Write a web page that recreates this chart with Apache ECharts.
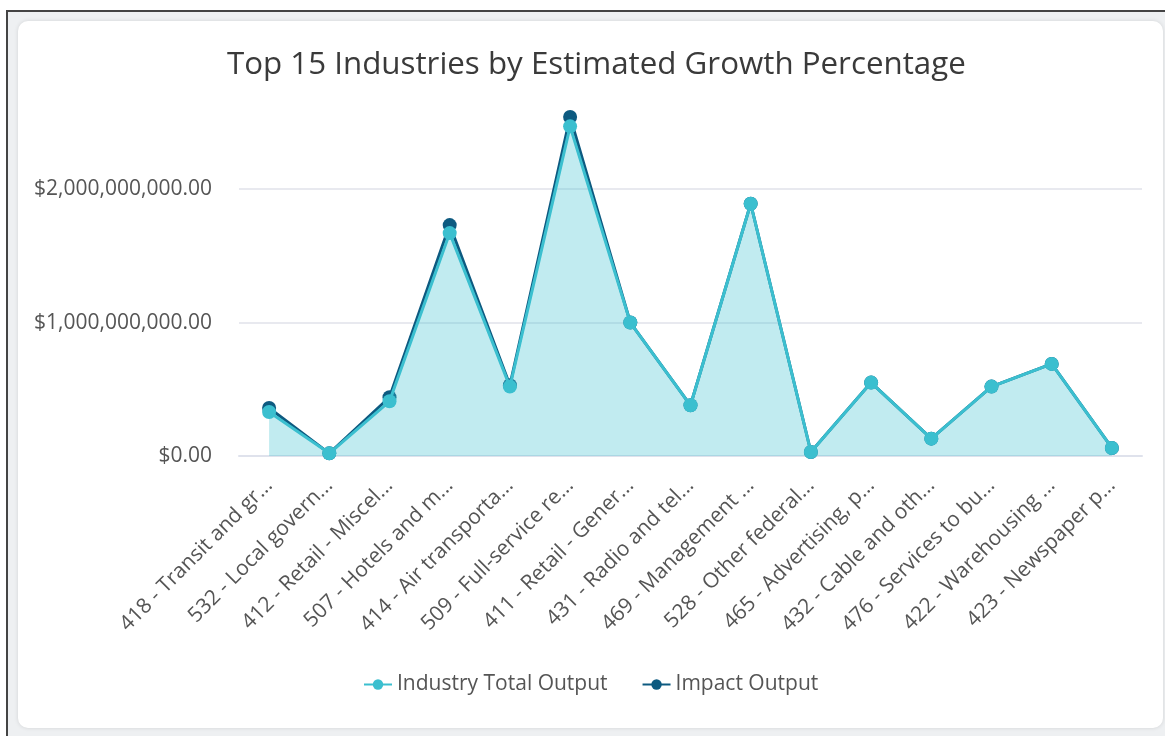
<!DOCTYPE html>
<html lang="en">
<head>
  <meta charset="UTF-8">
  <title>Top 15 Industries by Estimated Growth Percentage</title>
  <script src="https://cdn.jsdelivr.net/npm/echarts@6/dist/echarts.min.js"></script>
  <style>
    html, body { margin: 0; padding: 0; background: #fff; }
    #frame {
      position: absolute; left: 6px; top: 10px; right: 0; bottom: 0;
      background: #eef0f2;
      border-left: 2px solid #444; border-top: 2px solid #444;
    }
    #card {
      position: absolute; left: 18px; top: 21px; width: 1145px; height: 707px;
      background: #fff; border-radius: 10px;
      box-shadow: 0 0 4px rgba(0,0,0,0.12);
    }
    #chart { position: absolute; left: 0; top: 0; width: 1165px; height: 736px; }
  </style>
</head>
<body>
  <div id="frame"></div>
  <div id="card"></div>
  <div id="chart"></div>

  <script>
    var industries = [
      '418 - Transit and gr...', '532 - Local govern...', '412 - Retail - Miscel...',
      '507 - Hotels and m...', '414 - Air transporta...', '509 - Full-service re...',
      '411 - Retail - Gener...', '431 - Radio and tel...', '469 - Management ...',
      '528 - Other federal...', '465 - Advertising, p...', '432 - Cable and oth...',
      '476 - Services to bu...', '422 - Warehousing ...', '423 - Newspaper p...'
    ];
    // values in dollars
    var totalOutput = [
      0.33e9, 0.02e9, 0.41e9, 1.67e9, 0.52e9, 2.47e9, 1.00e9, 0.38e9,
      1.89e9, 0.03e9, 0.55e9, 0.13e9, 0.52e9, 0.69e9, 0.06e9
    ];
    var impactOutput = [
      0.36e9, 0.02e9, 0.44e9, 1.73e9, 0.53e9, 2.54e9, 1.00e9, 0.38e9,
      1.89e9, 0.03e9, 0.55e9, 0.13e9, 0.52e9, 0.69e9, 0.06e9
    ];

    var font = '"Open Sans", sans-serif';
    var chart = echarts.init(document.getElementById('chart'));

    function money(v) {
      return '$' + v.toLocaleString('en-US', { minimumFractionDigits: 2, maximumFractionDigits: 2 });
    }

    chart.setOption({
      animation: false,
      title: {
        text: 'Top 15 Industries by Estimated Growth Percentage',
        left: 222, top: 45,
        textStyle: { fontFamily: font, fontSize: 31.3, fontWeight: 'normal', color: '#3a3a3a' }
      },
      legend: {
        data: ['Industry Total Output', 'Impact Output'],
        left: 358, top: 669,
        itemWidth: 28, itemHeight: 13, itemGap: 34,
        textStyle: { fontFamily: font, fontSize: 21, color: '#555' }
      },
      grid: { left: 239, right: 23, top: 109, bottom: 280, containLabel: false },
      xAxis: {
        type: 'category', data: industries, boundaryGap: true,
        axisLine: { lineStyle: { color: '#dfe2ec', width: 2 } },
        axisTick: { show: false },
        axisLabel: {
          rotate: 45, margin: 26, interval: 0,
          fontFamily: font, fontSize: 21, color: '#555'
        }
      },
      yAxis: {
        type: 'value', min: 0, max: 2.6e9, interval: 1e9,
        axisLine: { show: false }, axisTick: { show: false },
        splitLine: { showMaxLine: false, lineStyle: { color: '#e8e9ef', width: 2 } },
        axisLabel: {
          margin: 27, showMaxLabel: false,
          fontFamily: font, fontSize: 21, color: '#555',
          formatter: money
        }
      },
      series: [
        {
          name: 'Industry Total Output', type: 'line', data: totalOutput, z: 3,
          symbol: 'circle', symbolSize: 14,
          lineStyle: { width: 3, color: '#3bbfcf' },
          itemStyle: { color: '#3bbfcf' },
          areaStyle: { color: 'rgba(59,191,207,0.45)' }
        },
        {
          name: 'Impact Output', type: 'line', data: impactOutput, z: 2,
          symbol: 'circle', symbolSize: 14,
          lineStyle: { width: 3, color: '#0d5a80' },
          itemStyle: { color: '#0d5a80' }
        }
      ]
    });
  </script>
</body>
</html>
